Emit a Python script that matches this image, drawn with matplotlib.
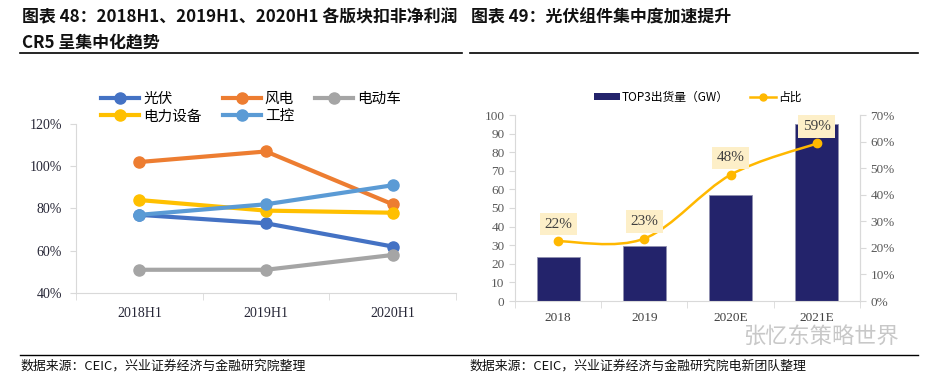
import numpy as np
import matplotlib.pyplot as plt
from matplotlib.path import Path
from matplotlib.patches import PathPatch, Patch
from matplotlib.lines import Line2D

plt.rcParams['font.family'] = ['Noto Sans CJK SC', 'DejaVu Sans']

# left chart data
periods = ["2018H1", "2019H1", "2020H1"]
series_names = ["光伏", "风电", "电动车", "电力设备", "工控"]
pv = [77, 73, 62]
wind = [102, 107, 82]
ev = [51, 51, 58]
power_eq = [84, 79, 78]
ind_ctrl = [77, 82, 91]
series_vals = [pv, wind, ev, power_eq, ind_ctrl]
series_colors = ["#4472C4", "#ED7D31", "#A5A5A5", "#FFC000", "#5B9BD5"]

# right chart data
years = ["2018", "2019", "2020E", "2021E"]
top3_gw = [23.5, 29.5, 57, 95]
share = [22.5, 23.5, 47.5, 59.3]
share_labels = ["22%", "23%", "48%", "59%"]

W, H = 928, 380
fig = plt.figure(figsize=(W / 100, H / 100), dpi=100)

def fx(px):
    return px / W

def fy(py):
    return 1 - py / H

serif = "Liberation Serif"

# headers
fig.text(fx(22), fy(17), "图表 48：2018H1、2019H1、2020H1 各版块扣非净利润",
         fontsize=12.2, fontweight="bold", va="center", ha="left", color="#111111")
fig.text(fx(22), fy(42), "CR5 呈集中化趋势",
         fontsize=12.2, fontweight="bold", va="center", ha="left", color="#111111")
fig.text(fx(471), fy(17), "图表 49：光伏组件集中度加速提升",
         fontsize=12.2, fontweight="bold", va="center", ha="left", color="#111111")
fig.add_artist(Line2D([fx(20), fx(462)], [fy(53), fy(53)], color="black", lw=1.2))
fig.add_artist(Line2D([fx(470), fx(918)], [fy(53), fy(53)], color="black", lw=1.2))

# footer
fig.add_artist(Line2D([fx(20), fx(918)], [fy(355), fy(355)], color="black", lw=1.0))
fig.text(fx(20), fy(366), "数据来源：CEIC，兴业证券经济与金融研究院整理",
         fontsize=9.3, va="center", ha="left", color="#111111")
fig.text(fx(469), fy(366), "数据来源：CEIC，兴业证券经济与金融研究院电新团队整理",
         fontsize=9.3, va="center", ha="left", color="#111111")
fig.text(fx(743), fy(337), "张忆东策略世界", fontsize=16, va="center", ha="left",
         color="#c8c8c8")

# ---------- left chart ----------
ax = fig.add_axes([fx(76), fy(293), fx(456) - fx(76), fy(124) - fy(293)])
x = np.arange(len(periods))
lines = {}
for name, vals, c in zip(series_names, series_vals, series_colors):
    lines[name], = ax.plot(x, vals, color=c, lw=3, marker="o", ms=8, label=name)
ax.set_xlim(-0.5, 2.5)
ax.set_ylim(40, 120)
ax.set_yticks(range(40, 121, 20))
ax.set_yticklabels([f"{v}%" for v in range(40, 121, 20)], fontfamily=serif,
                   fontsize=10, color="#262636")
ax.set_xticks(x)
ax.set_xticklabels(periods, fontfamily=serif, fontsize=10, color="#262636")
ax.set_xticks([-0.5, 0.5, 1.5, 2.5], minor=True)
ax.tick_params(axis="x", which="major", length=0, pad=10)
ax.tick_params(axis="x", which="minor", length=5, color="#D9D9D9")
ax.tick_params(axis="y", length=4, color="#D9D9D9", pad=6)
for s in ["top", "right"]:
    ax.spines[s].set_visible(False)
for s in ["left", "bottom"]:
    ax.spines[s].set_color("#D9D9D9")
# legend filled column by column -> order so rows read 光伏 风电 电动车 / 电力设备 工控
leg_order = ["光伏", "电力设备", "风电", "工控", "电动车"]
ax.legend([lines[n] for n in leg_order], leg_order, loc="upper left",
          bbox_to_anchor=(fx(122) - fx(76), (fy(86) - fy(293)) / (fy(124) - fy(293))),
          ncol=3, frameon=False, fontsize=10.5, handlelength=2.6, columnspacing=1.45,
          handletextpad=0.3, labelspacing=0.25, borderaxespad=0)

# ---------- right chart ----------
bx = fig.add_axes([fx(515), fy(301), fx(860) - fx(515), fy(115) - fy(301)])
xr = np.arange(len(years))
bx.bar(xr, top3_gw, width=0.5, color="#23236B", edgecolor="#9090B0", lw=0.6,
       label="TOP3出货量（GW）")
bx.set_xlim(-0.5, 3.5)
bx.set_ylim(0, 100)
bx.set_yticks(range(0, 101, 10))
bx.set_yticklabels([str(v) for v in range(0, 101, 10)], fontfamily=serif, fontsize=9.5,
                   color="#595959")
bx.set_xticks(xr)
bx.set_xticklabels(years, fontfamily=serif, fontsize=9.5, color="#404040")
bx.set_xticks([-0.5, 0.5, 1.5, 2.5, 3.5], minor=True)
bx.tick_params(axis="x", which="major", length=0, pad=8)
bx.tick_params(axis="x", which="minor", length=5, color="#D9D9D9")
bx.tick_params(axis="y", length=4, color="#D9D9D9")
bx.spines["top"].set_visible(False)
for s in ["left", "bottom", "right"]:
    bx.spines[s].set_color("#D9D9D9")

bx2 = bx.twinx()
bx2.set_ylim(0, 70)
bx2.set_yticks(range(0, 71, 10))
bx2.set_yticklabels([f"{v}%" for v in range(0, 71, 10)], fontfamily=serif, fontsize=9.5,
                    color="#595959")
bx2.tick_params(axis="y", length=4, color="#D9D9D9")
for s in ["top", "left", "bottom"]:
    bx2.spines[s].set_visible(False)
bx2.spines["right"].set_color("#D9D9D9")

# smoothed line through the share points (bezier path)
pts = np.column_stack([xr, share]).astype(float)
verts = [pts[0]]
codes = [Path.MOVETO]
n = len(pts)
for i in range(n - 1):
    p0 = pts[i - 1] if i > 0 else pts[i]
    p1, p2 = pts[i], pts[i + 1]
    p3 = pts[i + 2] if i + 2 < n else pts[i + 1]
    verts += [p1 + (p2 - p0) / 6, p2 - (p3 - p1) / 6, p2]
    codes += [Path.CURVE4] * 3
bx2.add_patch(PathPatch(Path(verts, codes), facecolor="none", edgecolor="#FFB800", lw=1.8))
bx2.plot(xr, share, ls="none", marker="o", ms=6, color="#FFB800")
for xi, yi, lab in zip(xr, share, share_labels):
    bx2.annotate(lab, (xi, yi), xytext=(0, 17), textcoords="offset pixels", ha="center",
                 va="center", fontfamily=serif, fontsize=11, color="#404040",
                 bbox=dict(boxstyle="square,pad=0.3", fc="#FDEFC8", ec="none"))

handles = [Patch(facecolor="#23236B", label="TOP3出货量（GW）"),
           Line2D([], [], color="#FFB800", lw=1.8, marker="o", ms=5, label="占比")]
bx.legend(handles=handles, loc="center",
          bbox_to_anchor=(0.53, (fy(97) - fy(301)) / (fy(115) - fy(301))),
          ncol=2, frameon=False, fontsize=8.5, handlelength=2.2, handleheight=0.6,
          columnspacing=1.8, handletextpad=0.2)

fig.savefig("out.png", dpi=100)
